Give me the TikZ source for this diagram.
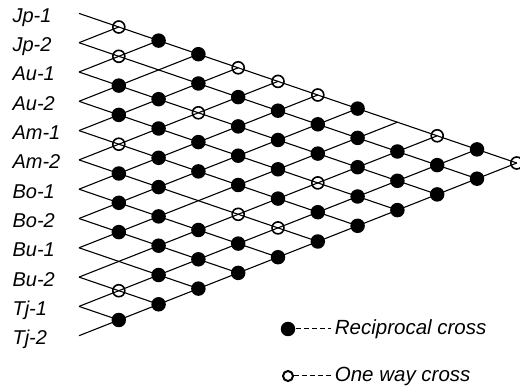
\documentclass[tikz,border=0pt]{standalone}
\usepackage{fontspec}
\setmainfont{Liberation Sans}
\usepackage{tikz}
\usetikzlibrary{positioning}

\tikzset{
  fdot/.style={circle,fill=black,inner sep=0pt,minimum size=14.5pt},
  odot/.style={circle,draw=black,line width=1.6pt,inner sep=0pt,minimum size=12pt},
  stock/.style={anchor=base west,inner sep=0pt,font=\fontsize{20}{22}\selectfont\itshape},
  keytext/.style={anchor=west,font=\fontsize{20.5}{22}\selectfont\itshape},
  keydash/.style={dash pattern=on 5pt off 3pt,line width=1pt},
}

\begin{document}
\begin{tikzpicture}[x=1pt,y=-1pt,line width=1.1pt]
  \useasboundingbox (0,0) rectangle (520,390);
  % tips of the lines, one per stock
  \foreach \i in {0,...,11}
    \coordinate (t\i) at (79,{13.4+29.3*\i});
  % crossing points
  \foreach \i in {0,...,11}
    \foreach \j in {0,...,11}
      \coordinate (c\i-\j) at ({79+39.8*(\j-\i)},{13.4+29.3*\i+13.6*(\j-\i)});
  % stock names
  \foreach \lab [count=\i from 0] in {Jp-1,Jp-2,Au-1,Au-2,Am-1,Am-2,Bo-1,Bo-2,Bu-1,Bu-2,Tj-1,Tj-2}
    \node[stock] (s\i) at (12,{22.4+29.3*\i}) {\lab};
  % lattice
  \foreach \i in {0,...,10}
    \draw (t\i) -- (c\i-11);
  \foreach \j in {1,...,11}
    \draw (t\j) -- (c0-\j);
  % reciprocal crosses
  \foreach \i/\js in {0/{2,3,7,10},1/{4,5,6,7,8,9,10,11},2/{3,4,6,7,8,9,10,11},
                      3/{4,5,6,7,8,10,11},4/{6,7,8,9,10,11},5/{6,7,11},
                      6/{7,8,9,10,11},7/{8,9,10,11},8/{10,11},9/{11},10/{11}}
    \foreach \j in \js
      \node[fdot] (f\i-\j) at (c\i-\j) {};
  % one way crosses
  \foreach \i/\j in {0/1,1/2,4/5,9/10,2/5,0/4,5/9,0/5,5/10,0/6,3/9,0/9,0/11}
    \node[odot] (o\i-\j) at (c\i-\j) {};
  % key
  \node[fdot] (kf) at (288,329) {};
  \node[keytext] (tf) at (331,329) {Reciprocal cross};
  \draw[keydash] (kf) -- (tf);
  \node[odot,minimum size=10pt,line width=2pt] (ko) at (288,376) {};
  \node[keytext] (to) at (331,376) {One way cross};
  \draw[keydash] (ko) -- (to);
\end{tikzpicture}
\end{document}
